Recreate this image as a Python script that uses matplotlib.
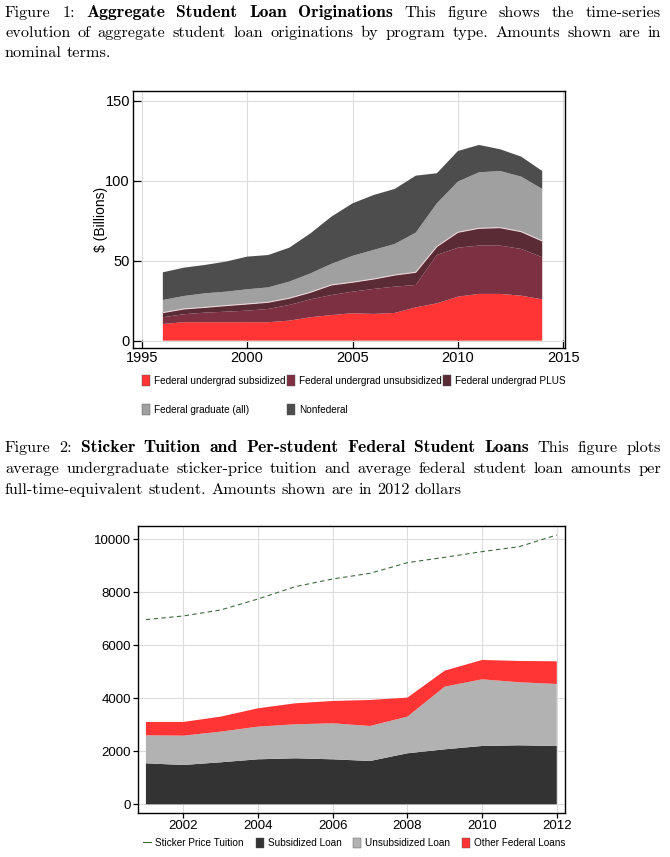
import numpy as np
import matplotlib.pyplot as plt
from matplotlib.lines import Line2D
from matplotlib.patches import Patch

# ---- data: figure 1 (billions, nominal) ----
years1 = list(range(1996, 2015))
fed_ug_sub = [10.4, 11.5, 11.5, 11.5, 11.5, 11.5, 12.5, 14.6, 16.0, 17.1,
              16.7, 17.3, 20.8, 23.3, 27.5, 29.2, 29.2, 28.1, 25.8]
fed_ug_unsub = [4.2, 5.0, 6.0, 6.6, 7.25, 8.3, 9.8, 11.2, 12.5, 13.5,
                15.6, 16.45, 14.0, 30.2, 30.6, 30.2, 30.2, 29.2, 26.3]
fed_ug_plus = [2.9, 3.3, 3.3, 3.8, 4.15, 4.2, 4.2, 4.4, 6.3, 5.9,
               6.2, 7.25, 7.9, 5.3, 9.6, 10.8, 11.2, 10.8, 10.2]
fed_grad = [7.9, 8.1, 8.8, 8.7, 9.2, 9.3, 10.4, 11.8, 13.2, 16.5,
            18.2, 19.4, 24.8, 27.0, 31.7, 35.0, 35.4, 34.4, 32.5]
nonfederal = [17.3, 17.7, 17.7, 18.8, 20.4, 20.2, 21.2, 25.0, 29.5, 32.8,
              34.3, 34.4, 35.6, 18.8, 19.1, 17.1, 13.6, 12.5, 11.2]
labels1 = ['Federal undergrad subsidized', 'Federal undergrad unsubsidized',
           'Federal undergrad PLUS', 'Federal graduate (all)', 'Nonfederal']

# ---- data: figure 2 (per FTE student, 2012 dollars) ----
years2 = list(range(2001, 2013))
sticker = [6969, 7107, 7333, 7748, 8214, 8503, 8717, 9119, 9321, 9535, 9723, 10164]
sub_loan = [1547, 1484, 1585, 1698, 1736, 1698, 1635, 1925, 2075, 2201, 2226, 2201]
unsub_loan = [1057, 1107, 1157, 1233, 1283, 1359, 1321, 1383, 2365, 2516, 2378, 2340]
other_loan = [503, 516, 566, 692, 792, 842, 981, 717, 604, 730, 805, 855]
labels2 = ['Sticker Price Tuition', 'Subsidized Loan', 'Unsubsidized Loan', 'Other Federal Loans']

cols1 = ['#FF3434', '#7D3042', '#5A2A35', '#A0A0A0', '#4D4D4D']
cols2 = ['#333333', '#B2B2B2', '#FF3434']

W, H = 670, 857
fig = plt.figure(figsize=(W / 100, H / 100), dpi=100)
fig.patch.set_facecolor('white')
plt.rcParams['font.family'] = ['Liberation Sans', 'DejaVu Sans']


def style_axes(ax, lsize, direction, length, pad):
    ax.grid(True, color='#DCDCDC', linewidth=0.8)
    ax.set_axisbelow(True)
    for s in ax.spines.values():
        s.set_linewidth(1.0)
        s.set_color('black')
    ax.tick_params(direction=direction, length=length, width=0.9, labelsize=lsize, pad=pad)


# ---- chart 1 ----
ax1 = fig.add_axes([132.7 / W, 1 - 348 / H, (565 - 132.7) / W, (348 - 91) / H])
ax1.stackplot(years1, fed_ug_sub, fed_ug_unsub, fed_ug_plus, fed_grad, nonfederal,
              colors=cols1, labels=labels1, linewidth=0)
plus_top = np.array(fed_ug_sub) + np.array(fed_ug_unsub) + np.array(fed_ug_plus)
ax1.plot(years1, plus_top, color='#E9D6D9', linewidth=0.8)
ax1.set_xlim(1994.57, 2015.08)
ax1.set_ylim(-4.6, 156)
ax1.set_xticks([1995, 2000, 2005, 2010, 2015])
ax1.set_yticks([0, 50, 100, 150])
ax1.set_ylabel('\\$ (Billions)', fontsize=10, labelpad=-2)
style_axes(ax1, 10.5, 'in', 6, 2)

h1 = [Patch(facecolor=c, edgecolor='#555555', linewidth=0.3) for c in cols1]
# legend fills column-wise, reorder so rows read like the original
order = [0, 3, 1, 4, 2]
fig.legend([h1[i] for i in order], [labels1[i] for i in order], ncol=3, loc='upper left',
           bbox_to_anchor=(142 / W, 1 - 375 / H), frameon=False, fontsize=7.2,
           handlelength=0.8, handleheight=1.3, handletextpad=0.4,
           columnspacing=0.15, labelspacing=1.8, borderpad=0, borderaxespad=0)

# ---- chart 2 ----
ax2 = fig.add_axes([137.7 / W, 1 - 812.7 / H, (565 - 137.7) / W, (812.7 - 526) / H])
ax2.stackplot(years2, sub_loan, unsub_loan, other_loan, colors=cols2,
              labels=labels2[1:], linewidth=0)
ax2.plot(years2, sticker, color='#3F6B3F', linewidth=0.8, dashes=(4, 3), label=labels2[0])
ax2.set_xlim(2000.78, 2012.22)
ax2.set_ylim(-317, 10502)
ax2.set_xticks(range(2002, 2013, 2))
ax2.set_yticks(range(0, 10001, 2000))
style_axes(ax2, 9.5, 'out', 3.5, 1.5)

h2 = [Line2D([0], [0], color='#3F6B3F', linewidth=0.8)] + \
     [Patch(facecolor=c, edgecolor='#555555', linewidth=0.3) for c in cols2]
fig.legend(h2, labels2, ncol=4, loc='center left', bbox_to_anchor=(143 / W, 1 - 843 / H),
           frameon=False, fontsize=7.2, handlelength=0.8, handleheight=1.3,
           handletextpad=0.4, columnspacing=1.2, borderpad=0, borderaxespad=0)

# ---- captions (Computer Modern, justified by hand) ----
fig.canvas.draw()
rend = fig.canvas.get_renderer()

line2_txt = 'evolution of aggregate student loan originations by program type.  Amounts shown are in'
probe = fig.text(0, 0, line2_txt, fontsize=10, fontfamily='cmr10')
cap_fs = 10 * 640 / probe.get_window_extent(rend).width
probe.remove()


def caption_line(y, words, justify=True, x0=5, x1=661):
    arts = []
    for w, bold in words:
        arts.append(fig.text(0, 1 - y / H, w, va='baseline',
                             fontsize=cap_fs * 1.08 if bold else cap_fs,
                             fontfamily='cmb10' if bold else 'cmr10'))
    widths = [a.get_window_extent(rend).width for a in arts]
    gap = (x1 - x0 - sum(widths)) / (len(arts) - 1) if justify else cap_fs * 0.45
    x = x0
    for a, wd in zip(arts, widths):
        a.set_x(x / W)
        x += wd + gap


def words_of(s, bold=False):
    return [(w, bold) for w in s.split()]


caption_line(17, words_of('Figure 1:') + words_of('Aggregate Student Loan Originations', True)
             + words_of('This figure shows the time-series'))
caption_line(37, words_of(line2_txt))
caption_line(57, words_of('nominal terms.'), justify=False)

caption_line(452, words_of('Figure 2:') + words_of('Sticker Tuition and Per-student Federal Student Loans', True)
             + words_of('This figure plots'))
caption_line(473, words_of('average undergraduate sticker-price tuition and average federal student loan amounts per'))
caption_line(494, words_of('full-time-equivalent student. Amounts shown are in 2012 dollars'), justify=False)

fig.savefig('out.png', dpi=100)
